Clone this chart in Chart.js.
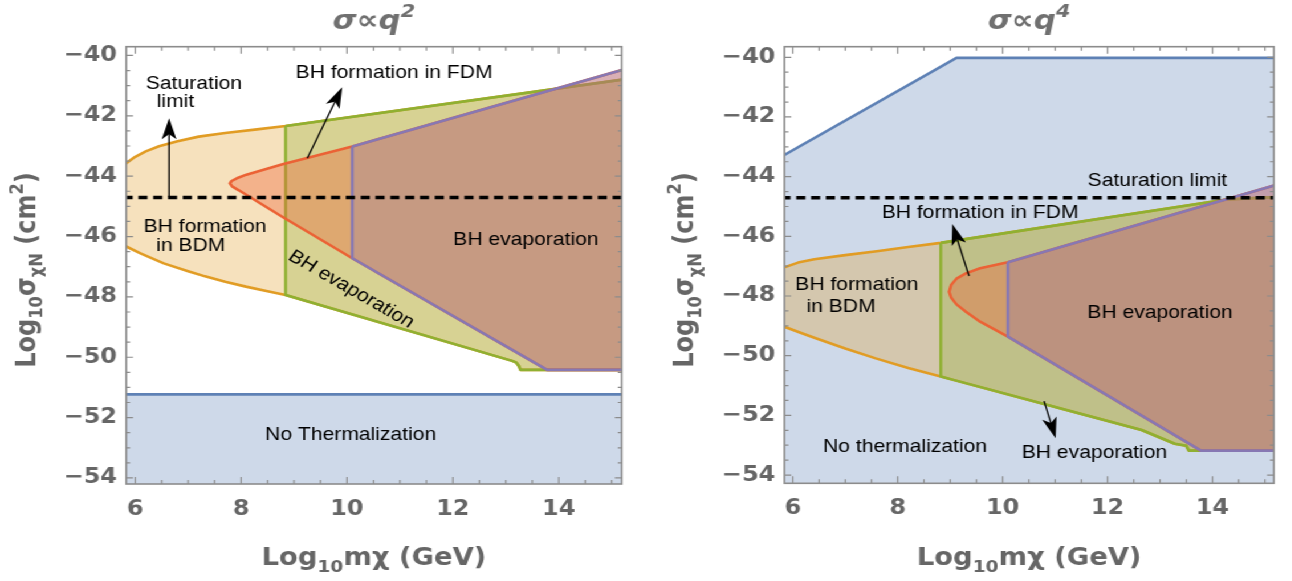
<!DOCTYPE html>
<html>
<head>
<meta charset="utf-8">
<title>BH formation regions</title>
<script src="https://cdn.jsdelivr.net/npm/chart.js@4.4.1/dist/chart.umd.min.js"></script>
<style>
  html, body { margin: 0; padding: 0; background: #fff; }
  body { width: 1292px; height: 581px; overflow: hidden; position: relative; }
  /* both panels are laid out narrow and widened as one block */
  .stage { position: absolute; left: 0; top: 0; width: 1133px; height: 581px; transform: scaleX(1.14); transform-origin: 0 0; }
  .panel { position: absolute; top: 0; height: 581px; }
  #p1 { left: 0; width: 567px; }
  #p2 { left: 567px; width: 566px; }
</style>
</head>
<body>
<div class="stage">
  <div class="panel" id="p1"><canvas id="chartQ2"></canvas></div>
  <div class="panel" id="p2"><canvas id="chartQ4"></canvas></div>
</div>
<script>
//AXES
const xTicks      = [6, 8, 10, 12, 14];
const xTickLabels = ['6', '8', '10', '12', '14'];
const yTicks      = [-40, -42, -44, -46, -48, -50, -52, -54];
const yTickLabels = ['\u221240', '\u221242', '\u221244', '\u221246', '\u221248', '\u221250', '\u221252', '\u221254'];
const saturation  = -44.71;

//SIGMA ~ q^2 boundaries [log10 m, log10 sigma]
const q2BdmTop    = [[5.5, -43.95], [5.83, -43.57], [6.0, -43.36], [6.2, -43.18], [6.45, -43.01], [6.8, -42.84],
                     [7.2, -42.69], [7.7, -42.57], [8.3, -42.45], [8.84, -42.34]];
const q2BdmBottom = [[5.5, -46.08], [5.83, -46.33], [6.1, -46.56], [6.54, -46.89], [7.0, -47.15], [7.32, -47.32],
                     [7.7, -47.5], [8.09, -47.66], [8.5, -47.81], [8.84, -47.94]];
const q2FdmTop    = [[8.84, -42.34], [15.5, -40.73]];
const q2FdmBottom = [[8.84, -47.94], [13.12, -50.12], [13.2, -50.18], [13.25, -50.3], [13.28, -50.42], [15.5, -50.42]];
const q2Nose      = [[10.1, -43.02], [8.8, -43.6], [8.1, -43.95], [7.92, -44.07], [7.82, -44.16], [7.79, -44.24],
                     [7.83, -44.34], [7.95, -44.46], [8.8, -45.37], [10.1, -46.72]];
const q2EvapTop    = [[10.1, -43.02], [15.5, -40.33]];
const q2EvapBottom = [[10.1, -46.72], [13.78, -50.42], [15.5, -50.42]];
const q2Thermal   = -51.23;

//SIGMA ~ q^4 boundaries
const q4ThermalTop = [[5.5, -43.61], [5.84, -43.27], [9.12, -40.02], [15.5, -40.02]];
const q4BdmTop     = [[5.5, -47.25], [5.84, -47.04], [6.1, -46.88], [6.41, -46.77], [7.0, -46.63], [7.6, -46.5],
                      [8.2, -46.36], [8.82, -46.22]];
const q4BdmBottom  = [[5.5, -48.82], [5.84, -49.03], [6.16, -49.24], [6.41, -49.4], [7.0, -49.76], [7.58, -50.09],
                      [8.2, -50.41], [8.82, -50.7]];
const q4FdmTop     = [[8.82, -46.22], [14.3, -44.76], [15.5, -44.66]];
const q4FdmBottom  = [[8.82, -50.7], [9.06, -50.81], [11.09, -51.76], [12.65, -52.49], [13.28, -52.95], [13.5, -53.02],
                      [13.55, -53.18], [15.5, -53.18]];
const q4Nose       = [[10.1, -46.87], [9.57, -47.07], [9.3, -47.24], [9.12, -47.42], [9.02, -47.62], [8.98, -47.86],
                      [9.02, -48.06], [9.12, -48.28], [9.3, -48.53], [9.57, -48.86], [10.1, -49.36]];
const q4EvapTop    = [[10.1, -46.87], [15.5, -44.13]];
const q4EvapBottom = [[10.1, -49.36], [13.78, -53.18], [15.5, -53.18]];

//LABELS + ARROWS (data coords)
const q2Notes = [
  { text: 'Saturation', x: 7.11, y: -40.94 },
  { text: 'limit', x: 6.76, y: -41.54 },
  { text: 'BH formation in FDM', x: 10.89, y: -40.57 },
  { text: 'BH formation', x: 7.32, y: -45.67 },
  { text: 'in BDM', x: 7.05, y: -46.3 },
  { text: 'BH evaporation', x: 13.38, y: -46.11 },
  { text: 'BH evaporation', x: 10.08, y: -47.75, angle: 33 },
  { text: 'No Thermalization', x: 10.07, y: -52.57 }
];
const q2Arrows = [
  { from: [6.64, -44.68], to: [6.64, -42.08] },
  { from: [9.25, -43.41], to: [9.91, -41.05] }
];
const q4Notes = [
  { text: 'Saturation limit', x: 12.95, y: -44.15 },
  { text: 'BH formation in FDM', x: 9.57, y: -45.23 },
  { text: 'BH formation', x: 7.22, y: -47.63 },
  { text: 'in BDM', x: 6.92, y: -48.38 },
  { text: 'BH evaporation', x: 13.0, y: -48.56 },
  { text: 'No thermalization', x: 8.14, y: -53.05 },
  { text: 'BH evaporation', x: 11.75, y: -53.27 }
];
const q4Arrows = [
  { from: [9.36, -47.33], to: [9.04, -45.59] },
  { from: [10.79, -51.52], to: [11.01, -52.77] }
];

const COLORS = { blue: '94,129,181', orange: '225,156,36', green: '143,176,50', red: '235,98,53', purple: '135,120,179' };
const FRAME  = '#8c8c8c';
const GRAYTXT = '#666666';

const rev    = a => a.slice().reverse();
const closed = pts => pts.concat([pts[0]]);

function region(label, pts, color, alpha, order) {
  return {
    label, order,
    data: pts.map(([x, y]) => ({ x, y })),
    showLine: true, tension: 0, clip: 0,
    pointRadius: 0, pointHoverRadius: 0, pointHitRadius: 0,
    borderColor: `rgb(${color})`, borderWidth: 2.6, borderJoinStyle: 'round',
    backgroundColor: `rgba(${color},${alpha})`,
    fill: 'shape'
  };
}

function satLine() {
  return {
    label: 'Saturation limit', order: 0,
    data: [{ x: 5.5, y: saturation }, { x: 15.5, y: saturation }],
    showLine: true, clip: 0, pointRadius: 0, pointHitRadius: 0,
    borderColor: '#000', borderWidth: 3.5, borderDash: [8, 5], fill: false
  };
}

// text with sub/superscript pieces, centred on x
function richText(ctx, parts, x, y, size, style) {
  const font = s => `${style || ''} bold ${s}px "DejaVu Sans"`;
  const sz = p => (p.sub || p.sup ? size * 0.68 : size);
  let w = 0;
  parts.forEach(p => { ctx.font = font(sz(p)); w += ctx.measureText(p.t).width; });
  let cx = x - w / 2;
  parts.forEach(p => {
    ctx.font = font(sz(p));
    const dy = p.sub ? size * 0.28 : p.sup ? -size * 0.45 : 0;
    ctx.fillText(p.t, cx, y + dy);
    cx += ctx.measureText(p.t).width;
  });
}

function arrow(ctx, x0, y0, x1, y1) {
  const a = Math.atan2(y1 - y0, x1 - x0);
  const len = 21, half = 6.5, notch = 16;
  const c = Math.cos(a), s = Math.sin(a);
  const bx = x1 - len * c, by = y1 - len * s;
  ctx.beginPath();
  ctx.moveTo(x0, y0);
  ctx.lineTo(x1 - notch * c, y1 - notch * s);
  ctx.stroke();
  ctx.beginPath();
  ctx.moveTo(x1, y1);
  ctx.lineTo(bx - half * s, by + half * c);
  ctx.lineTo(x1 - notch * c, y1 - notch * s);
  ctx.lineTo(bx + half * s, by - half * c);
  ctx.closePath();
  ctx.fill();
}

const framePlugin = {
  id: 'frameNotes',
  afterDatasetsDraw(chart, args, opts) {
    const { ctx, chartArea: a, scales: { x, y } } = chart;
    ctx.save();
    // ticks on all four sides, pointing inward
    ctx.strokeStyle = FRAME;
    ctx.lineWidth = 1.2;
    ctx.beginPath();
    for (let v = Math.ceil(x.min * 2) / 2; v <= x.max; v += 0.5) {
      const px = x.getPixelForValue(v);
      const len = xTicks.includes(v) ? 7 : 4;
      ctx.moveTo(px, a.bottom); ctx.lineTo(px, a.bottom - len);
      ctx.moveTo(px, a.top);    ctx.lineTo(px, a.top + len);
    }
    for (let v = Math.ceil(y.min * 2) / 2; v <= y.max; v += 0.5) {
      const py = y.getPixelForValue(v);
      const len = yTicks.includes(v) ? 6 : 3.5;
      ctx.moveTo(a.left, py);  ctx.lineTo(a.left + len, py);
      ctx.moveTo(a.right, py); ctx.lineTo(a.right - len, py);
    }
    ctx.stroke();
    ctx.lineWidth = 1.6;
    ctx.strokeRect(a.left, a.top, a.right - a.left, a.bottom - a.top);

    // region labels
    ctx.fillStyle = '#000';
    ctx.strokeStyle = '#000';
    ctx.lineWidth = 1.3;
    ctx.font = '18.5px "Liberation Sans", Arial, sans-serif';
    ctx.textAlign = 'center';
    ctx.textBaseline = 'middle';
    opts.notes.forEach(n => {
      ctx.save();
      ctx.translate(x.getPixelForValue(n.x), y.getPixelForValue(n.y));
      if (n.angle) ctx.rotate(n.angle * Math.PI / 180);
      ctx.fillText(n.text, 0, 0);
      ctx.restore();
    });
    opts.arrows.forEach(r => arrow(ctx,
      x.getPixelForValue(r.from[0]), y.getPixelForValue(r.from[1]),
      x.getPixelForValue(r.to[0]), y.getPixelForValue(r.to[1])));

    // titles
    ctx.fillStyle = GRAYTXT;
    ctx.textAlign = 'left';
    ctx.textBaseline = 'alphabetic';
    const mid = (a.left + a.right) / 2;
    ctx.fillStyle = '#707070';
    richText(ctx, [{ t: '\u03c3\u221dq' }, { t: opts.power, sup: true }], mid, 29, 27, 'italic');
    ctx.fillStyle = GRAYTXT;
    richText(ctx, [{ t: 'Log' }, { t: '10', sub: true }, { t: 'm\u03c7 (GeV)' }], mid, 565, 24);
    ctx.save();
    ctx.translate(a.left - 80, 270);
    ctx.rotate(-Math.PI / 2);
    richText(ctx, [{ t: 'Log' }, { t: '10', sub: true }, { t: '\u03c3' }, { t: '\u03c7N', sub: true },
                   { t: ' (cm' }, { t: '2', sup: true }, { t: ')' }], 0, 0, 24);
    ctx.restore();
    ctx.restore();
  }
};

function regionChart(id, cfg) {
  const tickFont = { family: 'DejaVu Sans', weight: 'bold', size: 21 };
  return new Chart(document.getElementById(id), {
    type: 'scatter',
    data: { datasets: cfg.datasets },
    options: {
      responsive: true, maintainAspectRatio: false, animation: false, events: [],
      layout: { padding: { top: 46.7, right: cfg.padRight, left: 0, bottom: 0 } },
      plugins: {
        legend: { display: false }, tooltip: { enabled: false },
        frameNotes: { notes: cfg.notes, arrows: cfg.arrows, power: cfg.power }
      },
      scales: {
        x: {
          type: 'linear', min: cfg.xMin, max: cfg.xMax,
          grid: { display: false, drawTicks: false }, border: { display: false },
          afterBuildTicks: s => { s.ticks = xTicks.map(value => ({ value })); },
          afterFit: s => { s.height = cfg.xHeight; },
          ticks: { autoSkip: false, maxRotation: 0, padding: 13, color: GRAYTXT, font: tickFont,
                   callback: (v, i) => xTickLabels[i] }
        },
        y: {
          type: 'linear', min: cfg.yMin, max: cfg.yMax,
          grid: { display: false, drawTicks: false }, border: { display: false },
          afterBuildTicks: s => { s.ticks = yTicks.map(value => ({ value })); },
          afterFit: s => { s.width = cfg.yWidth; },
          ticks: { autoSkip: false, padding: 8, color: GRAYTXT, font: tickFont,
                   callback: (v, i) => yTickLabels[i] }
        }
      }
    },
    plugins: [framePlugin]
  });
}

window.addEventListener('load', () => {
  regionChart('chartQ2', {
    xMin: 5.83, xMax: 15.19, yMin: -54.2, yMax: -39.71,
    yWidth: 110.7, xHeight: 97, padRight: 21.6, power: '2',
    notes: q2Notes, arrows: q2Arrows,
    datasets: [
      satLine(),
      region('BH evaporation', closed([...q2EvapTop, ...rev(q2EvapBottom)]), COLORS.purple, 0.28, 1),
      region('BH formation in FDM', closed([...q2Nose, ...q2EvapBottom.slice(1), ...rev(q2EvapTop)]), COLORS.red, 0.37, 2),
      region('BH evaporation (FDM)', closed([...q2FdmTop, ...rev(q2FdmBottom)]), COLORS.green, 0.3, 3),
      region('BH formation in BDM', closed([...q2BdmTop, ...q2FdmTop.slice(1), ...rev(q2FdmBottom), ...rev(q2BdmBottom).slice(1)]), COLORS.orange, 0.3, 4),
      region('No Thermalization', closed([[5.5, q2Thermal], [15.5, q2Thermal], [15.5, -56], [5.5, -56]]), COLORS.blue, 0.3, 5)
    ]
  });

  regionChart('chartQ4', {
    xMin: 5.84, xMax: 15.17, yMin: -54.276, yMax: -39.645,
    yWidth: 121.1, xHeight: 97.7, padRight: 15.6, power: '4',
    notes: q4Notes, arrows: q4Arrows,
    datasets: [
      satLine(),
      region('BH evaporation', closed([...q4EvapTop, ...rev(q4EvapBottom)]), COLORS.purple, 0.28, 1),
      region('BH formation in FDM', closed([...q4Nose, ...q4EvapBottom.slice(1), ...rev(q4EvapTop)]), COLORS.red, 0.37, 2),
      region('BH evaporation (FDM)', closed([...q4FdmTop, ...rev(q4FdmBottom)]), COLORS.green, 0.3, 3),
      region('BH formation in BDM', closed([...q4BdmTop, ...q4FdmTop.slice(1), ...rev(q4FdmBottom), ...rev(q4BdmBottom).slice(1)]), COLORS.orange, 0.3, 4),
      region('No thermalization', closed([...q4ThermalTop, [15.5, -56], [5.5, -56]]), COLORS.blue, 0.3, 5)
    ]
  });
});
</script>
</body>
</html>
